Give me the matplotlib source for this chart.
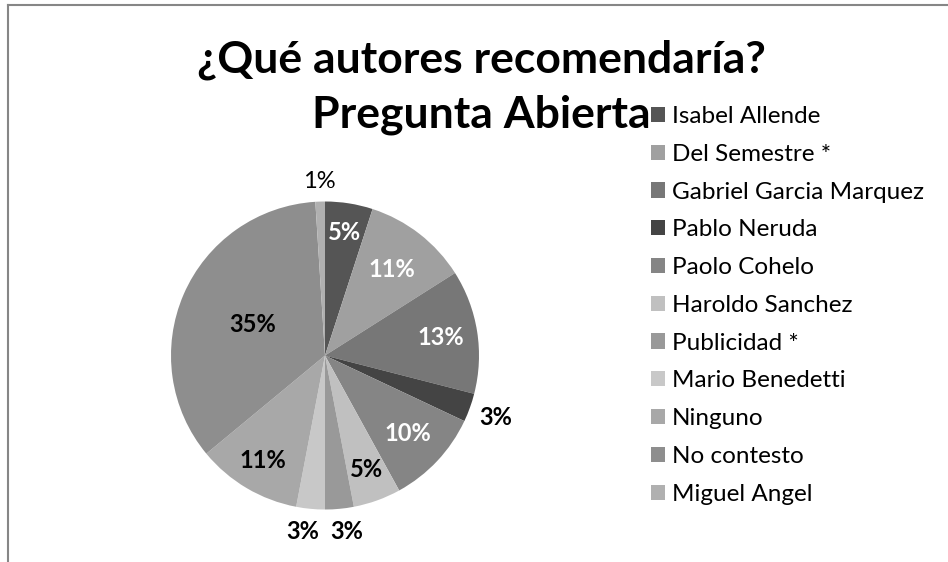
import numpy as np
import matplotlib.pyplot as plt
from matplotlib.lines import Line2D

autores = ["Isabel Allende", "Del Semestre *", "Gabriel Garcia Marquez", "Pablo Neruda",
           "Paolo Cohelo", "Haroldo Sanchez", "Publicidad *", "Mario Benedetti",
           "Ninguno", "No contesto", "Miguel Angel"]
porcentajes = [5, 11, 13, 3, 10, 5, 3, 3, 11, 35, 1]

colores = ["#555555", "#a0a0a0", "#777777", "#444444", "#858585", "#c0c0c0",
           "#999999", "#c8c8c8", "#a8a8a8", "#8e8e8e", "#b0b0b0"]
# label radius (fraction of pie radius), angle nudge (deg), color, weight
lab_r = [0.81, 0.71, 0.76, 1.18, 0.74, 0.79, 1.15, 1.15, 0.79, 0.51, 1.13]
lab_da = [0, 0, 0, 0, 0, 0, 1.6, -1.8, 0, 0, 0]
lab_c = ["white", "white", "white", "black", "white", "black", "black", "black", "black", "black", "black"]
lab_w = ["bold"] * 10 + ["normal"]

plt.rcParams['font.family'] = ['Lato', 'DejaVu Sans']

fig = plt.figure(figsize=(9.48, 5.62), dpi=100)
ax = fig.add_axes([(325 - 154) / 948, (562 - 355.5 - 154) / 562, 308 / 948, 308 / 562])

wedges, _ = ax.pie(porcentajes, colors=colores, startangle=90, counterclock=False,
                   radius=1, wedgeprops=dict(linewidth=0))
ax.set_xlim(-1, 1)
ax.set_ylim(-1, 1)
ax.set_aspect('auto')
ax.axis('off')

for w, p, r, da, c, fw in zip(wedges, porcentajes, lab_r, lab_da, lab_c, lab_w):
    ang = np.deg2rad((w.theta1 + w.theta2) / 2 + da)
    ax.text(r * np.cos(ang), r * np.sin(ang), f"{p}%", ha='center', va='center',
            fontsize=17, color=c, fontweight=fw, clip_on=False)

fig.text(481 / 948, 1 - 72 / 562, "¿Qué autores recomendaría?", ha='center', va='baseline',
         fontsize=32, fontweight='bold')
fig.text(481 / 948, 1 - 128 / 562, "Pregunta Abierta", ha='center', va='baseline',
         fontsize=32, fontweight='bold')

fig.legend(wedges, autores, loc='upper left', bbox_to_anchor=(651 / 948, 1 - 106 / 562),
           frameon=False, fontsize=17.5, handlelength=0.58, handleheight=0.58,
           handletextpad=0.29, labelspacing=0.69, borderpad=0, borderaxespad=0)

fig.add_artist(Line2D([8 / 948, 1], [1 - 4.5 / 562, 1 - 4.5 / 562], color="#868686", lw=1.5))
fig.add_artist(Line2D([8 / 948, 8 / 948], [0, 1 - 4.5 / 562], color="#868686", lw=1.5))

fig.savefig("out.png", dpi=100)
